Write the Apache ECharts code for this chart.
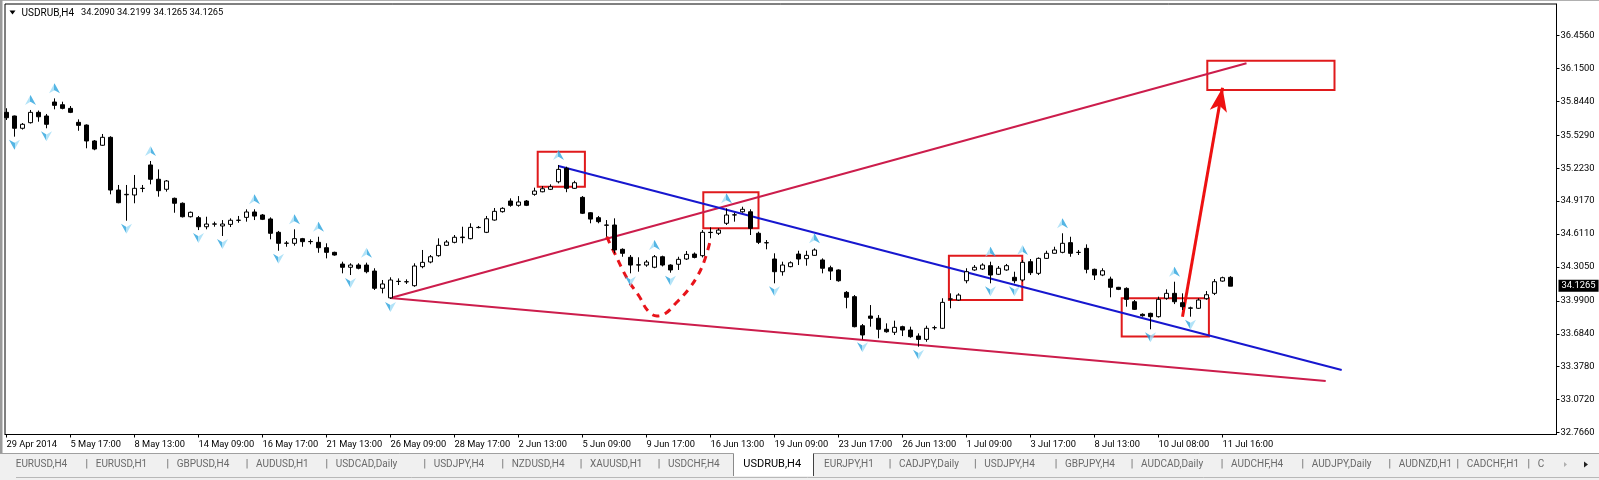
<!DOCTYPE html>
<html><head><meta charset="utf-8">
<script src="https://cdn.jsdelivr.net/npm/echarts@6/dist/echarts.min.js"></script>
<style>html,body{margin:0;padding:0;background:#fff;overflow:hidden}#c{width:1599px;height:480px}</style>
</head><body><div id="c"></div>
<script>
// ---------------- data ----------------
const symbolName = 'USDRUB,H4';
const lastQuote = ['34.2090', '34.2199', '34.1265', '34.1265'];
const lastPrice = 34.1265;

const xTickLabels = ['29 Apr 2014','5 May 17:00','8 May 13:00','14 May 09:00','16 May 17:00','21 May 13:00',
  '26 May 09:00','28 May 17:00','2 Jun 13:00','5 Jun 09:00','9 Jun 17:00','16 Jun 13:00','19 Jun 09:00',
  '23 Jun 17:00','26 Jun 13:00','1 Jul 09:00','3 Jul 17:00','8 Jul 13:00','10 Jul 08:00','11 Jul 16:00'];
const barsPerTimeLabel = 8;
const yTickLabels = ['32.7660','33.0720','33.3780','33.6840','33.9900','34.3050','34.6110',
  '34.9170','35.2230','35.5290','35.8440','36.1500','36.4560'];

const opens = [35.742,35.708,35.594,35.646,35.742,35.708,35.838,35.813,35.779,35.649,
35.624,35.476,35.436,35.510,35.020,34.976,34.974,35.035,35.253,35.120,
35.027,34.943,34.897,34.772,34.763,34.679,34.703,34.686,34.701,34.738,
34.766,34.816,34.788,34.751,34.627,34.525,34.525,34.568,34.540,34.534,
34.484,34.441,34.332,34.302,34.323,34.323,34.267,34.107,34.018,34.170,
34.167,34.131,34.308,34.351,34.410,34.506,34.534,34.583,34.568,34.671,
34.627,34.741,34.819,34.918,34.878,34.918,34.980,35.004,35.027,35.097,
35.222,35.036,34.952,34.809,34.763,34.695,34.695,34.469,34.395,34.325,
34.323,34.302,34.400,34.323,34.330,34.379,34.425,34.410,34.627,34.618,
34.711,34.788,34.818,34.818,34.618,34.531,34.379,34.261,34.308,34.425,
34.382,34.413,34.370,34.298,34.277,34.069,34.029,33.759,33.849,33.828,
33.726,33.698,33.750,33.719,33.663,33.632,33.741,33.735,34.008,33.998,
34.177,34.277,34.286,34.317,34.237,34.277,34.209,34.184,34.354,34.246,
34.385,34.432,34.441,34.531,34.440,34.478,34.283,34.230,34.193,34.116,
34.106,33.982,33.865,33.874,33.843,34.014,34.060,33.973,33.921,33.921,
34.010,34.060,34.174,34.2090];
const highs = [35.780,35.712,35.643,35.764,35.759,35.727,35.872,35.841,35.801,35.677,
35.630,35.485,35.541,35.520,35.067,35.067,35.160,35.067,35.290,35.212,
35.113,34.950,34.905,34.820,34.779,34.772,34.726,34.741,34.757,34.779,
34.841,34.841,34.797,34.766,34.640,34.546,34.655,34.575,34.562,34.586,
34.525,34.447,34.354,34.339,34.339,34.345,34.293,34.184,34.209,34.199,
34.190,34.339,34.463,34.416,34.571,34.555,34.602,34.679,34.711,34.686,
34.779,34.853,34.860,34.943,34.964,34.927,35.042,35.057,35.073,35.253,
35.237,35.106,34.964,34.815,34.779,34.741,34.757,34.478,34.416,34.395,
34.370,34.416,34.410,34.330,34.400,34.453,34.440,34.648,34.673,34.664,
34.850,34.809,34.865,34.841,34.633,34.555,34.432,34.354,34.357,34.456,
34.456,34.478,34.385,34.317,34.283,34.081,34.044,33.775,33.951,33.858,
33.781,33.806,33.759,33.750,33.688,33.759,33.759,34.014,34.060,34.060,
34.293,34.323,34.339,34.354,34.314,34.333,34.261,34.370,34.379,34.394,
34.456,34.493,34.618,34.586,34.463,34.515,34.290,34.293,34.215,34.120,
34.116,33.998,33.874,33.880,34.029,34.097,34.168,34.060,33.936,34.014,
34.081,34.193,34.215,34.2199];
const lows = [35.671,35.516,35.582,35.638,35.655,35.594,35.770,35.770,35.735,35.571,
35.408,35.390,35.430,34.980,34.897,34.735,34.897,35.000,35.073,34.958,
35.005,34.809,34.765,34.765,34.648,34.655,34.679,34.593,34.676,34.716,
34.726,34.741,34.741,34.562,34.456,34.493,34.503,34.493,34.516,34.437,
34.385,34.410,34.246,34.230,34.283,34.246,34.091,34.060,34.008,34.137,
34.147,34.121,34.293,34.339,34.400,34.500,34.525,34.525,34.562,34.664,
34.620,34.735,34.810,34.865,34.865,34.871,34.967,34.999,35.020,35.082,
35.000,35.030,34.797,34.711,34.711,34.586,34.432,34.400,34.246,34.261,
34.307,34.293,34.310,34.252,34.277,34.370,34.385,34.394,34.571,34.602,
34.695,34.726,34.809,34.602,34.518,34.469,34.153,34.224,34.302,34.323,
34.317,34.410,34.246,34.184,34.168,33.921,33.744,33.633,33.750,33.642,
33.694,33.673,33.663,33.647,33.564,33.610,33.719,33.729,33.921,33.991,
34.153,34.270,34.277,34.153,34.230,34.270,34.153,34.168,34.230,34.230,
34.379,34.430,34.432,34.400,34.416,34.246,34.184,34.220,34.023,34.090,
33.936,33.905,33.843,33.726,33.835,34.000,33.960,33.905,33.843,33.915,
34.000,34.044,34.168,34.1265];
const closes = [35.692,35.594,35.631,35.742,35.701,35.631,35.807,35.779,35.742,35.621,
35.476,35.401,35.510,35.020,34.902,34.980,35.036,35.036,35.120,35.014,
35.104,34.897,34.772,34.813,34.679,34.704,34.705,34.704,34.739,34.740,
34.816,34.778,34.748,34.618,34.525,34.527,34.568,34.540,34.542,34.484,
34.441,34.416,34.302,34.323,34.293,34.261,34.107,34.147,34.184,34.172,
34.168,34.314,34.348,34.400,34.506,34.537,34.581,34.578,34.673,34.673,
34.753,34.822,34.850,34.878,34.909,34.878,35.011,35.032,35.051,35.212,
35.036,35.088,34.804,34.750,34.726,34.693,34.463,34.432,34.323,34.323,
34.351,34.400,34.323,34.277,34.376,34.422,34.394,34.627,34.625,34.648,
34.788,34.790,34.841,34.664,34.534,34.529,34.261,34.323,34.344,34.379,
34.413,34.463,34.293,34.267,34.177,34.023,33.750,33.673,33.828,33.726,
33.703,33.744,33.719,33.657,33.632,33.735,33.740,33.976,34.007,34.044,
34.261,34.302,34.323,34.230,34.293,34.317,34.177,34.348,34.252,34.385,
34.432,34.463,34.525,34.432,34.441,34.283,34.230,34.270,34.116,34.097,
34.004,33.911,33.852,33.843,34.004,34.060,33.982,33.936,33.925,33.998,
34.047,34.168,34.205,34.1265];

// indicator arrows (bar indices)
const upArrowBars = [3,6,18,31,36,39,45,69,81,90,101,123,127,132,146];
const downArrowBars = [1,5,15,24,27,34,43,48,78,83,96,107,114,123,126,143,148];

// drawn objects, in [bar index, price]
const wedgeUpperLine = [[48.0, 34.016], [155.0, 36.198]];
const wedgeLowerLine = [[48.0, 34.016], [164.9, 33.245]];
const blueTrendLine = [[69.0, 35.243], [166.9, 33.347]];
const redBoxes = [
  [[66.4, 35.376], [72.3, 35.050]],
  [[87.1, 34.999], [94.0, 34.664]],
  [[117.8, 34.410], [126.97, 33.998]],
  [[139.4, 34.014], [150.3, 33.658]],
  [[150.1, 36.222], [166.0, 35.950]]
];
const targetArrow = [[147.0, 33.843], [152.0, 35.971]];
const dashedCurve = [[75.03,34.586],[75.94,34.444],[77.69,34.184],[79.06,34.035],[80.19,33.896],
  [81.31,33.849],[82.44,33.877],[83.69,33.970],[85.19,34.091],[86.44,34.230],[87.31,34.379],[88.06,34.574]];

const tabNames = ['EURUSD,H4','EURUSD,H1','GBPUSD,H4','AUDUSD,H1','USDCAD,Daily','USDJPY,H4','NZDUSD,H4',
  'XAUUSD,H1','USDCHF,H4','USDRUB,H4','EURJPY,H1','CADJPY,Daily','USDJPY,H4','GBPJPY,H4','AUDCAD,Daily',
  'AUDCHF,H4','AUDJPY,Daily','AUDNZD,H1','CADCHF,H1','C'];
const activeTabName = 'USDRUB,H4';

// ---------------- layout / style ----------------
const FONT = "Roboto, 'DejaVu Sans', sans-serif";
const G = {left: 5, right: 1599 - 1556.5, top: 4, bottom: 480 - 434.5};
const X_MIN = -0.1875, X_MAX = 193.75;
const Y_MIN = 32.748, Y_MAX = 36.749;
const tabTextX = [15.7,95.7,176.7,256,335.7,433.7,511.7,590,668,743.3,824,899,984.3,1065,1141,1231,1311.7,1398.7,1466.7,1537.7];
const quoteTextX = [81, 117, 153.5, 189.5];

const candleData = opens.map((o, i) => [i, o, closes[i], lows[i], highs[i]]);
const upData = upArrowBars.map(b => [b, highs[b]]);
const downData = downArrowBars.map(b => [b, lows[b]]);

const arrowFill = {type: 'linear', x: 0, y: 0, x2: 1, y2: 0, colorStops: [
  {offset: 0, color: '#9fdcf6'}, {offset: 0.5, color: '#9fdcf6'},
  {offset: 0.5, color: '#2aa3dd'}, {offset: 1, color: '#2aa3dd'}]};
const arrowPath = 'path://M6,0 L12,11 L6,7.5 L0,11 Z';

// ---------------- graphics (window chrome, header, tabs) ----------------
const graphics = [];
graphics.push({type: 'rect', shape: {x: 0, y: 0, width: 1599, height: 1}, style: {fill: '#b0b0b0'}, silent: true});
graphics.push({type: 'rect', shape: {x: 0, y: 0, width: 2.5, height: 453}, style: {fill: '#9a9a9a'}, silent: true});
graphics.push({type: 'polygon', shape: {points: [[9.5, 10.5], [15.5, 10.5], [12.5, 14.5]]}, style: {fill: '#000'}, silent: true});
graphics.push({type: 'text', x: 21.5, y: 13, silent: true,
  style: {text: symbolName, font: '10px ' + FONT, fill: '#000', verticalAlign: 'middle', align: 'left'}});
lastQuote.forEach((q, i) => {
  graphics.push({type: 'text', x: quoteTextX[i], y: 13, silent: true,
    style: {text: q, font: '9.3px ' + FONT, fill: '#000', verticalAlign: 'middle', align: 'left'}});
});
// tab strip
graphics.push({type: 'rect', shape: {x: 0, y: 453, width: 1599, height: 27}, style: {fill: '#f0f0f0'}, silent: true});
graphics.push({type: 'line', shape: {x1: 0, y1: 453.5, x2: 1599, y2: 453.5}, style: {stroke: '#a0a0a0', lineWidth: 1}, silent: true});
graphics.push({type: 'line', shape: {x1: 16, y1: 477.5, x2: 1599, y2: 477.5}, style: {stroke: '#b8b8b8', lineWidth: 1}, silent: true});
const activeIdx = tabNames.indexOf(activeTabName);
graphics.push({type: 'rect', shape: {x: 733.5, y: 452, width: 80, height: 24}, style: {fill: '#fff', stroke: null}, silent: true});
graphics.push({type: 'polyline', shape: {points: [[733.5, 476], [733.5, 453.5]]}, style: {stroke: '#8a8a8a', lineWidth: 1}, silent: true});
graphics.push({type: 'polyline', shape: {points: [[813.5, 453.5], [813.5, 476]]}, style: {stroke: '#404040', lineWidth: 1}, silent: true});
tabNames.forEach((name, i) => {
  const active = i === activeIdx;
  graphics.push({type: 'text', x: tabTextX[i], y: 464.5, silent: true,
    style: {text: name, font: (active ? '11px ' : '10px ') + FONT, fill: active ? '#000' : '#6a6a6a', verticalAlign: 'middle', align: 'left'}});
  if (i > 0 && i !== activeIdx && i !== activeIdx + 1) {
    graphics.push({type: 'text', x: tabTextX[i] - 9, y: 464.5, silent: true,
      style: {text: '|', font: '10.5px ' + FONT, fill: '#666', verticalAlign: 'middle', align: 'center'}});
  }
});
graphics.push({type: 'polygon', shape: {points: [[1567, 464.5], [1564, 462], [1564, 467]]}, style: {fill: '#b0b0b0'}, silent: true});
graphics.push({type: 'polygon', shape: {points: [[1584, 461.5], [1588, 464.5], [1584, 467.5]]}, style: {fill: '#202020'}, silent: true});

// ---------------- chart ----------------
const chart = echarts.init(document.getElementById('c'), null, {renderer: 'canvas'});
chart.setOption({
  animation: false,
  backgroundColor: '#ffffff',
  textStyle: {fontFamily: FONT},
  grid: {left: G.left, right: G.right, top: G.top, bottom: G.bottom, show: true, borderColor: '#000', borderWidth: 1, backgroundColor: '#fff'},
  xAxis: {
    type: 'value', min: X_MIN, max: X_MAX, position: 'bottom',
    splitLine: {show: false},
    axisLine: {show: true, onZero: false, lineStyle: {color: '#000', width: 1}},
    axisTick: {show: true, length: 3, customValues: xTickLabels.map((_, k) => k * barsPerTimeLabel), lineStyle: {color: '#000'}},
    axisLabel: {show: true, customValues: xTickLabels.map((_, k) => k * barsPerTimeLabel),
      formatter: v => xTickLabels[Math.round(v / barsPerTimeLabel)] || '',
      align: 'left', margin: 5.5, color: '#000', fontSize: 9.3, fontFamily: FONT}
  },
  yAxis: {
    type: 'value', min: Y_MIN, max: Y_MAX, position: 'right', scale: true,
    splitLine: {show: false},
    axisLine: {show: true, onZero: false, lineStyle: {color: '#000', width: 1}},
    axisTick: {show: true, length: 3, customValues: yTickLabels.map(Number), lineStyle: {color: '#000'}},
    axisLabel: {show: true, customValues: yTickLabels.map(Number),
      formatter: v => v.toFixed(4), margin: 4, color: '#000', fontSize: 9.4, fontFamily: FONT}
  },
  graphic: graphics,
  series: [
    {
      name: 'wedge upper', type: 'line', data: wedgeUpperLine, symbol: 'none', silent: true, z: 3,
      lineStyle: {color: '#cc1d4c', width: 2}
    },
    {
      name: 'wedge lower', type: 'line', data: wedgeLowerLine, symbol: 'none', silent: true, z: 3,
      lineStyle: {color: '#cc1d4c', width: 2}
    },
    {
      name: 'trend', type: 'line', data: blueTrendLine, symbol: 'none', silent: true, z: 3,
      lineStyle: {color: '#1717cf', width: 2}
    },
    {
      name: 'curve', type: 'line', data: dashedCurve, symbol: 'none', smooth: 0.4, silent: true, z: 4,
      lineStyle: {color: '#e8141b', width: 3, type: [7, 6]}
    },
    {
      name: symbolName, type: 'candlestick', z: 5,
      dimensions: ['bar', 'open', 'close', 'lowest', 'highest'],
      encode: {x: 0, y: [1, 2, 3, 4]},
      data: candleData, barWidth: 4,
      itemStyle: {color: '#ffffff', color0: '#000000', borderColor: '#000000', borderColor0: '#000000', borderWidth: 1},
      markArea: {
        silent: true,
        itemStyle: {color: 'rgba(0,0,0,0)', borderColor: '#e01a1c', borderWidth: 2},
        data: redBoxes.map(b => [{coord: b[0]}, {coord: b[1]}])
      },
      markLine: {
        silent: true, symbol: ['none', 'arrow'], symbolSize: [0, 16],
        lineStyle: {color: '#ee1111', width: 3, type: 'solid'},
        label: {show: false},
        data: [[{coord: targetArrow[0], symbol: 'none'}, {coord: targetArrow[1], symbol: 'arrow', symbolSize: [13, 24]}]]
      }
    },
    {
      name: 'up arrows', type: 'scatter', data: upData, symbol: arrowPath, symbolSize: [11, 10],
      symbolOffset: [0, -10], silent: true, z: 6, itemStyle: {color: arrowFill}
    },
    {
      name: 'down arrows', type: 'scatter', data: downData, symbol: arrowPath, symbolSize: [11, 10],
      symbolRotate: 180, symbolOffset: [0, 8], silent: true, z: 6, itemStyle: {color: arrowFill}
    },
    {
      name: 'last price', type: 'line', data: [[opens.length - 1, lastPrice]], symbol: 'none', clip: false, silent: true, z: 7,
      markLine: {
        silent: true, symbol: 'none',
        lineStyle: {width: 0, color: 'rgba(0,0,0,0)'},
        label: {show: true, position: 'end', distance: 2, formatter: () => lastPrice.toFixed(4),
          color: '#fff', backgroundColor: '#000', padding: [2, 3, 1, 3], fontSize: 9.4, fontFamily: FONT},
        data: [{yAxis: lastPrice}]
      }
    }
  ]
});
</script>
</body></html>
